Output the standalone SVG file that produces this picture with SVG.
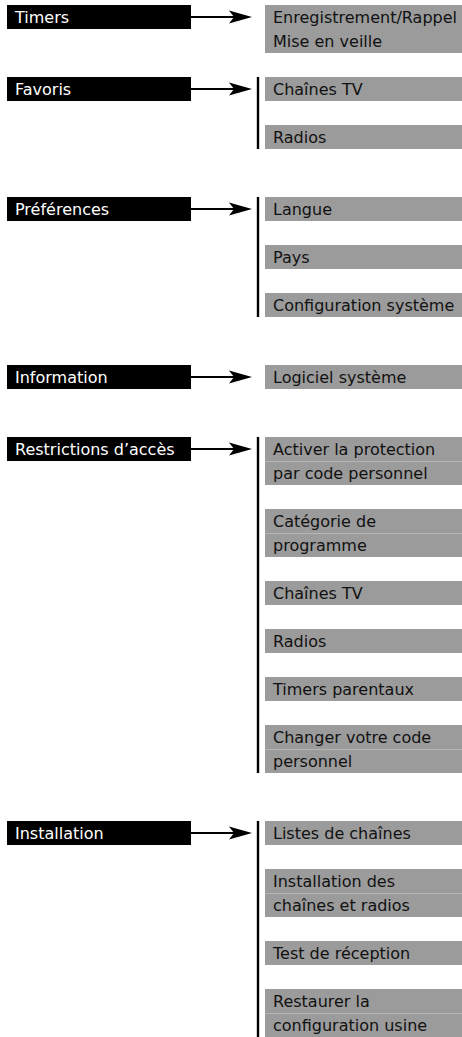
<svg xmlns="http://www.w3.org/2000/svg" width="462" height="1037" viewBox="0 0 462 1037">
<style>
.bar{fill:#000}
.box{fill:#9b9b9b}
.sep{stroke:#b5b5b5;stroke-width:1}
text{font-family:"DejaVu Sans","Liberation Sans",sans-serif;font-size:16px}
.h{fill:#fff}
.t{fill:#111}
.ln{stroke:#000;stroke-width:2;fill:none}
.vl{stroke:#000;stroke-width:2.4}
</style>
<defs>
<polygon id="ah" points="0,0 -23,-6.5 -18,0 -23,6.5" fill="#000"/>
</defs>
<g id="connectors">
<line class="ln" x1="190" y1="17" x2="234" y2="17"/><use href="#ah" x="252" y="17"/>
<line class="ln" x1="190" y1="89" x2="234" y2="89"/><use href="#ah" x="252" y="89"/>
<line class="ln" x1="190" y1="209" x2="234" y2="209"/><use href="#ah" x="252" y="209"/>
<line class="ln" x1="190" y1="377" x2="234" y2="377"/><use href="#ah" x="252" y="377"/>
<line class="ln" x1="190" y1="449" x2="234" y2="449"/><use href="#ah" x="252" y="449"/>
<line class="ln" x1="190" y1="833" x2="234" y2="833"/><use href="#ah" x="252" y="833"/>
<line class="vl" x1="258" y1="77" x2="258" y2="149"/>
<line class="vl" x1="258" y1="197" x2="258" y2="317"/>
<line class="vl" x1="258" y1="437" x2="258" y2="773"/>
<line class="vl" x1="258" y1="821" x2="258" y2="1037"/>
</g>
<g id="timers"><rect class="bar" x="7" y="5" width="184" height="24"/><text class="h" x="15" y="23">Timers</text></g>
<g id="favoris"><rect class="bar" x="7" y="77" width="184" height="24"/><text class="h" x="15" y="95">Favoris</text></g>
<g id="preferences"><rect class="bar" x="7" y="197" width="184" height="24"/><text class="h" x="15" y="215">Préférences</text></g>
<g id="information"><rect class="bar" x="7" y="365" width="184" height="24"/><text class="h" x="15" y="383">Information</text></g>
<g id="restrictions"><rect class="bar" x="7" y="437" width="184" height="24"/><text class="h" x="15" y="455">Restrictions d’accès</text></g>
<g id="installation"><rect class="bar" x="7" y="821" width="184" height="24"/><text class="h" x="15" y="839">Installation</text></g>

<g id="t-enreg"><rect class="box" x="265" y="5" width="197" height="48"/><text class="t" x="273" y="23">Enregistrement/Rappel</text><text class="t" x="273" y="47">Mise en veille</text></g>
<g id="f-chaines"><rect class="box" x="265" y="77" width="197" height="24"/><text class="t" x="273" y="95">Chaînes TV</text></g>
<g id="f-radios"><rect class="box" x="265" y="125" width="197" height="24"/><text class="t" x="273" y="143">Radios</text></g>
<g id="p-langue"><rect class="box" x="265" y="197" width="197" height="24"/><text class="t" x="273" y="215">Langue</text></g>
<g id="p-pays"><rect class="box" x="265" y="245" width="197" height="24"/><text class="t" x="273" y="263">Pays</text></g>
<g id="p-config"><rect class="box" x="265" y="293" width="197" height="24"/><text class="t" x="273" y="311">Configuration système</text></g>
<g id="i-logiciel"><rect class="box" x="265" y="365" width="197" height="24"/><text class="t" x="273" y="383">Logiciel système</text></g>
<g id="r-activer"><rect class="box" x="265" y="437" width="197" height="48"/><line class="sep" x1="265" y1="461.5" x2="462" y2="461.5"/><text class="t" x="273" y="455">Activer la protection</text><text class="t" x="273" y="479">par code personnel</text></g>
<g id="r-categorie"><rect class="box" x="265" y="509" width="197" height="48"/><line class="sep" x1="265" y1="533.5" x2="462" y2="533.5"/><text class="t" x="273" y="527">Catégorie de</text><text class="t" x="273" y="551">programme</text></g>
<g id="r-chaines"><rect class="box" x="265" y="581" width="197" height="24"/><text class="t" x="273" y="599">Chaînes TV</text></g>
<g id="r-radios"><rect class="box" x="265" y="629" width="197" height="24"/><text class="t" x="273" y="647">Radios</text></g>
<g id="r-timers"><rect class="box" x="265" y="677" width="197" height="24"/><text class="t" x="273" y="695">Timers parentaux</text></g>
<g id="r-changer"><rect class="box" x="265" y="725" width="197" height="48"/><line class="sep" x1="265" y1="749.5" x2="462" y2="749.5"/><text class="t" x="273" y="743">Changer votre code</text><text class="t" x="273" y="767">personnel</text></g>
<g id="n-listes"><rect class="box" x="265" y="821" width="197" height="24"/><text class="t" x="273" y="839">Listes de chaînes</text></g>
<g id="n-install"><rect class="box" x="265" y="869" width="197" height="48"/><line class="sep" x1="265" y1="893.5" x2="462" y2="893.5"/><text class="t" x="273" y="887">Installation des</text><text class="t" x="273" y="911">chaînes et radios</text></g>
<g id="n-test"><rect class="box" x="265" y="941" width="197" height="24"/><text class="t" x="273" y="959">Test de réception</text></g>
<g id="n-restaurer"><rect class="box" x="265" y="989" width="197" height="48"/><line class="sep" x1="265" y1="1013.5" x2="462" y2="1013.5"/><text class="t" x="273" y="1007">Restaurer la</text><text class="t" x="273" y="1031">configuration usine</text></g>
</svg>
